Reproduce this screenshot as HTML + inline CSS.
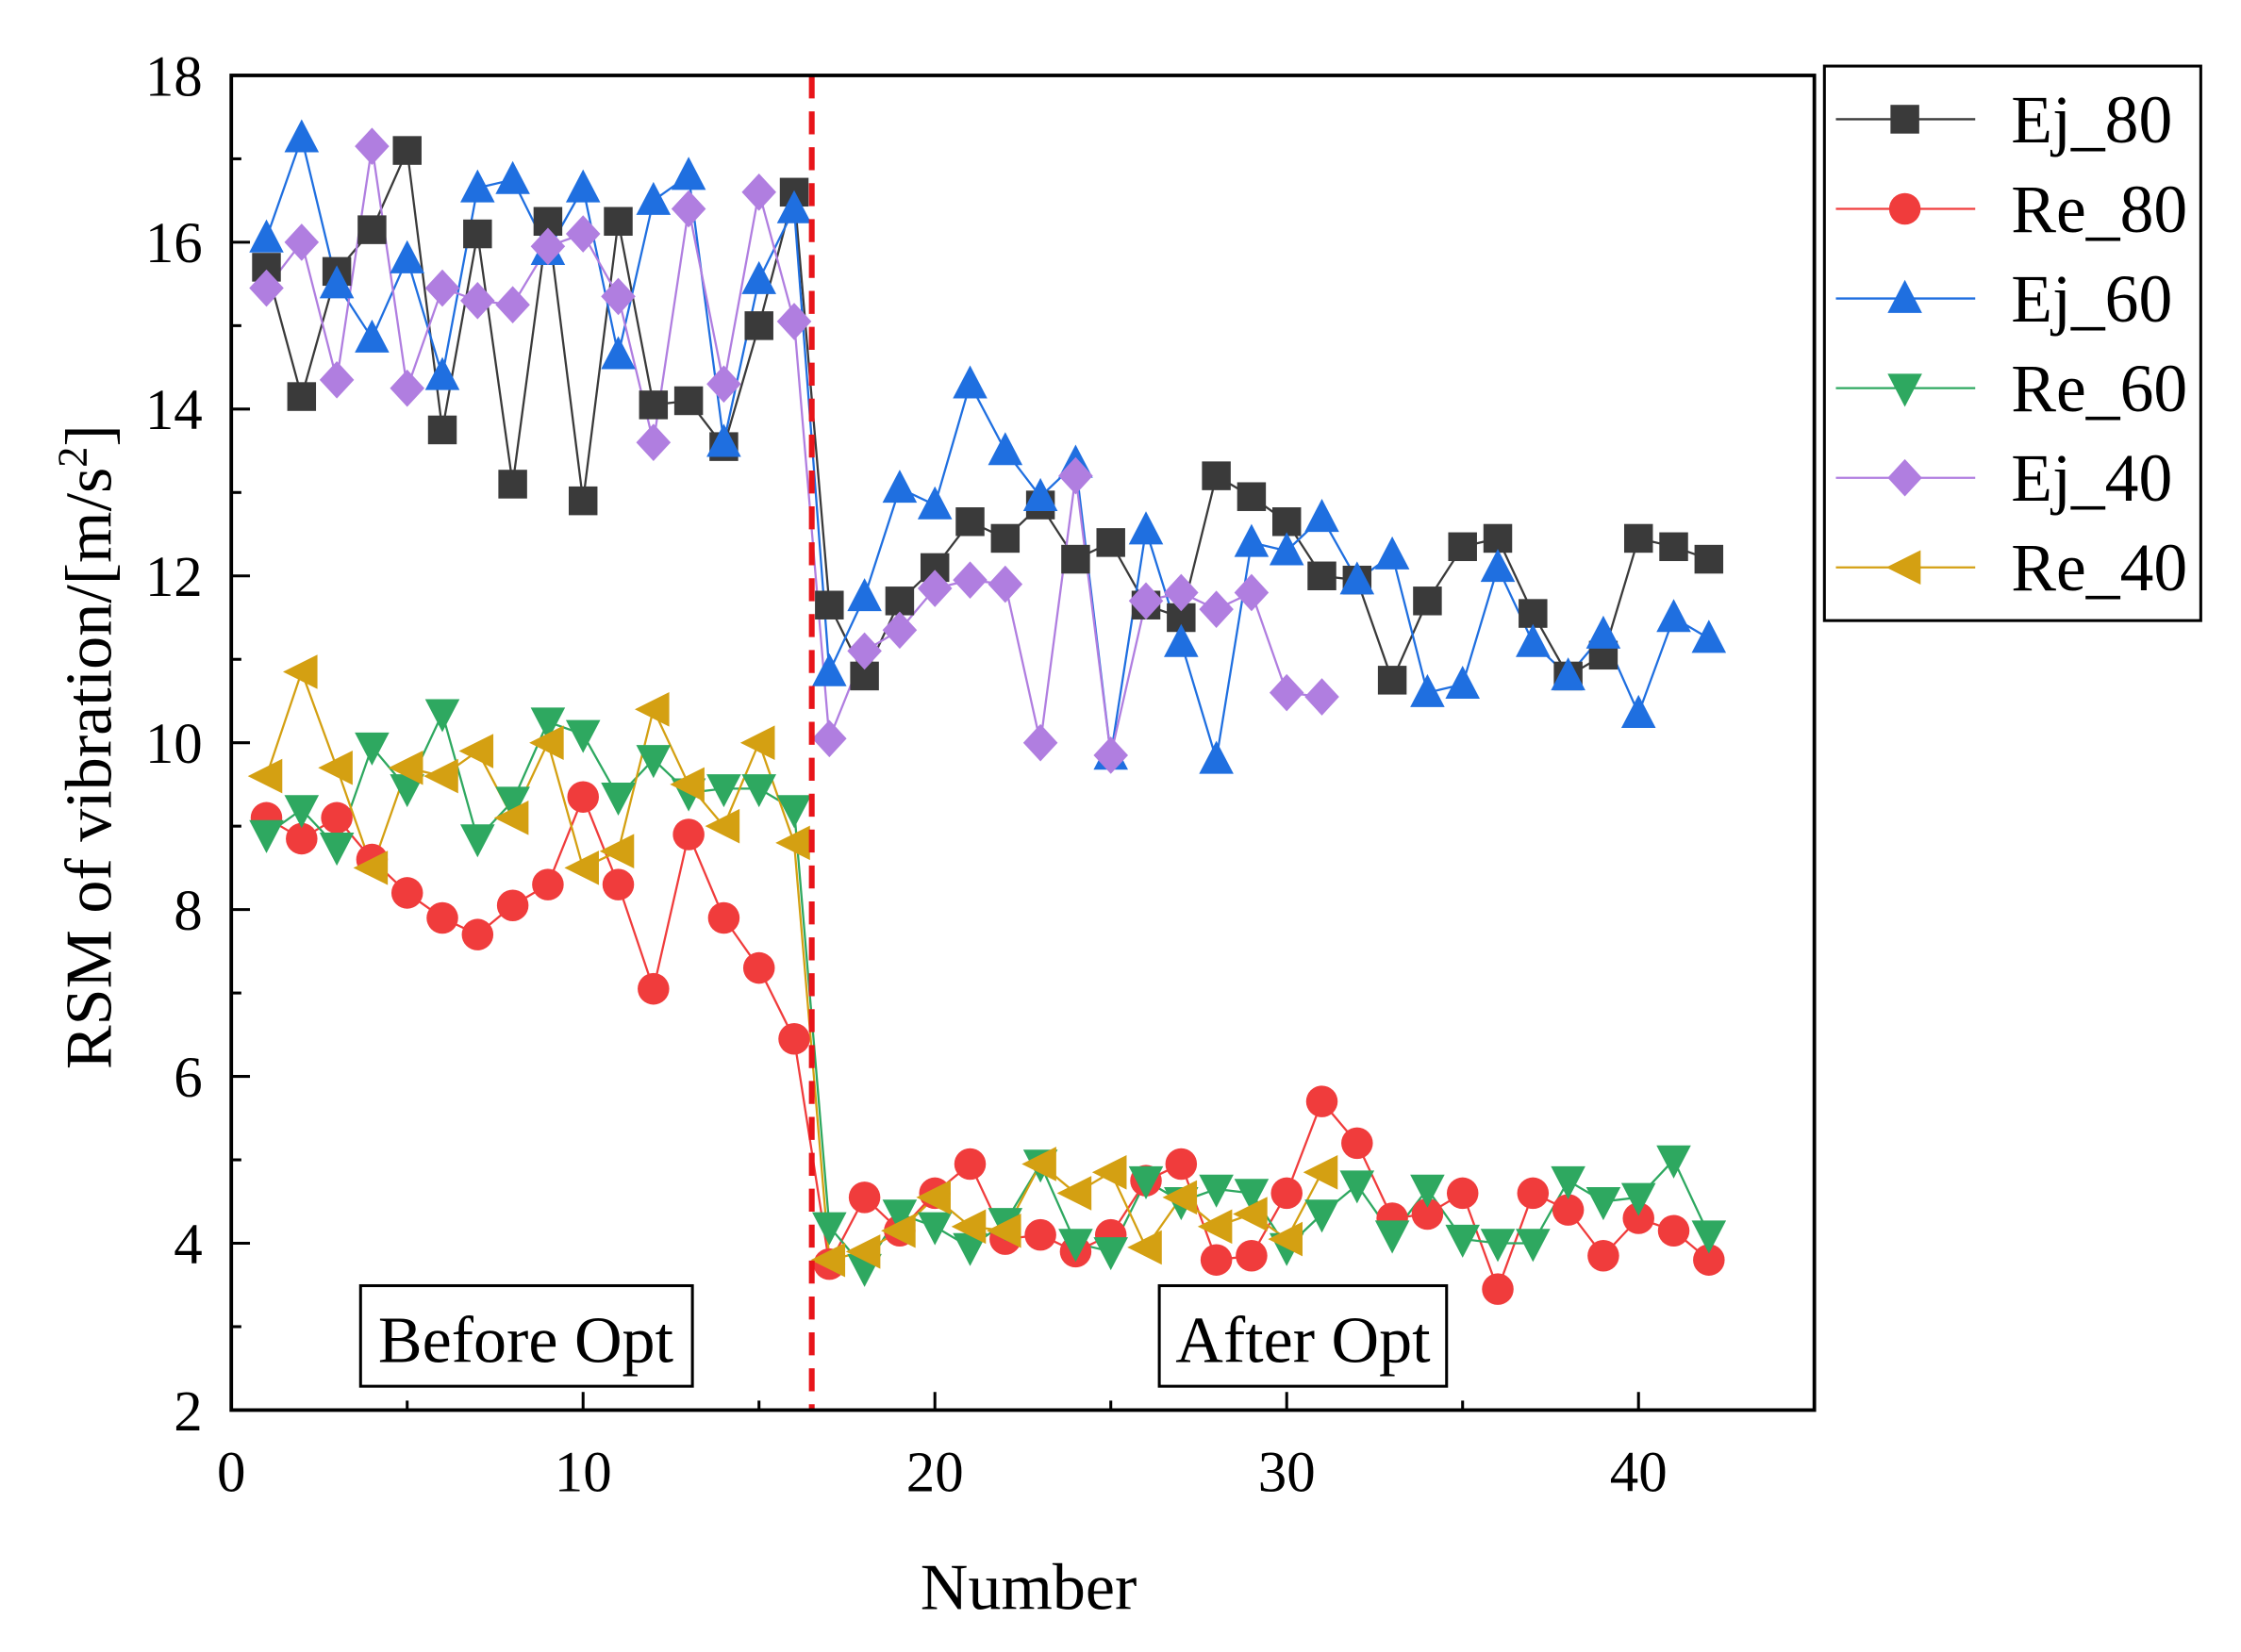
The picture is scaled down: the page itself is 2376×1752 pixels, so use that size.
<!DOCTYPE html>
<html><head><meta charset="utf-8"><style>
html,body{margin:0;padding:0;background:#fff;}
svg{display:block;}
text{font-family:"Liberation Serif",serif;fill:#000;}
</style></head><body>
<svg id="s" width="2376" height="1752" viewBox="0 0 1560 1150" preserveAspectRatio="none" xmlns="http://www.w3.org/2000/svg"></svg>
<script>
const s=document.getElementById('s');
const X=v=>161+v*24.49, Y=v=>981.6-(v-2)*58.07;
let h='';
const data=[
['Ej_80','#3a3a3a','sq',[15.7,14.15,15.65,16.15,17.1,13.75,16.1,13.1,16.25,12.9,16.25,14.05,14.1,13.55,15.0,16.6,11.65,10.8,11.7,12.1,12.65,12.45,12.85,12.2,12.4,11.65,11.5,13.2,12.95,12.65,12.0,11.95,10.75,11.7,12.35,12.45,11.55,10.8,11.05,12.45,12.35,12.2]],
['Re_80','#f03c3c','ci',[9.1,8.85,9.1,8.6,8.2,7.9,7.7,8.05,8.3,9.35,8.3,7.05,8.9,7.9,7.3,6.45,3.75,4.55,4.15,4.6,4.95,4.05,4.1,3.9,4.1,4.75,4.95,3.8,3.85,4.6,5.7,5.2,4.3,4.35,4.6,3.45,4.6,4.4,3.85,4.3,4.15,3.8]],
['Ej_60','#1f6fe0','up',[16.05,17.25,15.5,14.85,15.8,14.4,16.65,16.75,15.9,16.65,14.65,16.5,16.8,13.6,15.55,16.4,10.85,11.75,13.05,12.85,14.3,13.5,12.95,13.35,9.85,12.55,11.2,9.8,12.4,12.3,12.7,11.95,12.25,10.6,10.7,12.1,11.2,10.8,11.3,10.35,11.5,11.25]],
['Re_60','#2ea860','dn',[8.9,9.2,8.75,9.95,9.45,10.35,8.85,9.3,10.25,10.1,9.35,9.8,9.4,9.45,9.45,9.2,4.2,3.7,4.35,4.2,3.95,4.25,4.95,4.0,3.9,4.75,4.5,4.65,4.6,3.95,4.35,4.7,4.1,4.65,4.05,4.0,4.0,4.75,4.5,4.55,5.0,4.1]],
['Ej_40','#b07ee0','di',[15.45,16.0,14.35,17.15,14.25,15.45,15.3,15.25,15.95,16.1,15.35,13.6,16.4,14.3,16.6,15.05,10.05,11.1,11.35,11.85,11.95,11.9,10.0,13.2,9.85,11.7,11.8,11.6,11.8,10.6,10.55]],
['Re_40','#d4a012','lt',[9.6,10.85,9.7,8.5,9.7,9.6,9.9,9.1,10.0,8.5,8.7,10.4,9.5,9.0,10.0,8.8,3.8,3.9,4.15,4.55,4.2,4.15,4.95,4.6,4.85,3.95,4.55,4.2,4.35,4.05,4.85]]];
function mk(t,x,y,c){const r=11;
 if(t=='sq')return `<rect x="${x-r+1}" y="${y-r+1}" width="${2*r-2}" height="${2*r-2}" fill="${c}"/>`;
 if(t=='ci')return `<circle cx="${x}" cy="${y}" r="${r}" fill="${c}"/>`;
 if(t=='up')return `<polygon points="${x},${y-r-2} ${x+r+1},${y+r-1} ${x-r-1},${y+r-1}" fill="${c}"/>`;
 if(t=='dn')return `<polygon points="${x},${y+r+2} ${x+r+1},${y-r+1} ${x-r-1},${y-r+1}" fill="${c}"/>`;
 if(t=='di')return `<polygon points="${x},${y-r-2} ${x+r+1},${y} ${x},${y+r+2} ${x-r-1},${y}" fill="${c}"/>`;
 if(t=='lt')return `<polygon points="${x-r-2},${y} ${x+r},${y-r-1} ${x+r},${y+r+1}" fill="${c}"/>`;}
for(const [n,c,t,d] of data){
 h+=`<polyline fill="none" stroke="${c}" stroke-width="1.5" points="${d.map((v,i)=>X(i+1)+','+Y(v)).join(' ')}"/>`;
}
for(const [n,c,t,d] of data){d.forEach((v,i)=>h+=mk(t,X(i+1),Y(v),c));}
h+=`<line x1="${X(16.5)}" y1="52.5" x2="${X(16.5)}" y2="981.6" stroke="#e8151a" stroke-width="4" stroke-dasharray="16,9"/>`;
h+=`<rect x="161" y="52.5" width="1102" height="929.1" fill="none" stroke="#000" stroke-width="2.5"/>`;
for(let v=0;v<=45;v+=5){const x=X(v);h+=`<line x1="${x}" y1="981.6" x2="${x}" y2="${v%10?975:969}" stroke="#000" stroke-width="2"/>`;
 if(v%10==0)h+=`<text x="${x}" y="1038" font-size="40" text-anchor="middle">${v}</text>`;}
for(let v=2;v<=18;v+=1){const y=Y(v);h+=`<line x1="161" y1="${y}" x2="${v%2?168:174}" y2="${y}" stroke="#000" stroke-width="2"/>`;
 if(v%2==0)h+=`<text x="141" y="${y+14}" font-size="40" text-anchor="end">${v}</text>`;}
h+=`<text x="716" y="1120" font-size="46" text-anchor="middle">Number</text>`;
h+=`<text transform="translate(77,520) rotate(-90)" font-size="46" text-anchor="middle">RSM of vibration/[m/s<tspan font-size="29" dy="-17">2</tspan><tspan dy="17">]</tspan></text>`;
h+=`<rect x="251" y="895" width="231" height="70" fill="#fff" stroke="#000" stroke-width="2"/><text x="366" y="948" font-size="46" text-anchor="middle">Before Opt</text>`;
h+=`<rect x="807" y="895" width="200" height="70" fill="#fff" stroke="#000" stroke-width="2"/><text x="907" y="948" font-size="46" text-anchor="middle">After Opt</text>`;
h+=`<rect x="1270" y="46" width="262" height="386" fill="#fff" stroke="#000" stroke-width="2"/>`;
data.forEach(([n,c,t],i)=>{const y=83+i*62.4;h+=`<line x1="1278" y1="${y}" x2="1375" y2="${y}" stroke="${c}" stroke-width="1.5"/>`+mk(t,1326,y,c)+`<text x="1400" y="${y+16}" font-size="47">${n}</text>`;});
s.innerHTML=h;
</script>
</body></html>
